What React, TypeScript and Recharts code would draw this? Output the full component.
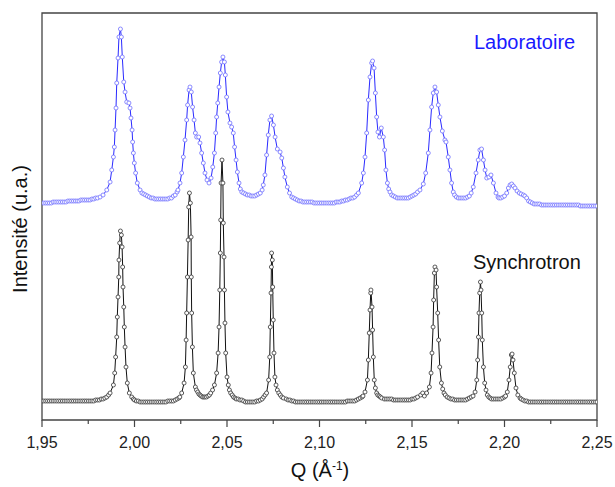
import { LineChart, Line, XAxis, YAxis, ReferenceArea } from 'recharts'

// Q (Å-1) vs intensity (a.u., offset per pattern)
const laboratoire: [number, number][] = [
  [1.950, 217], [1.951, 217], [1.952, 217], [1.953, 217], [1.954, 217], [1.955, 217], [1.956, 218], [1.957, 218],
  [1.958, 218], [1.959, 218], [1.960, 218], [1.961, 218], [1.962, 218], [1.963, 218], [1.964, 219], [1.965, 219],
  [1.966, 219], [1.967, 219], [1.968, 219], [1.969, 219], [1.970, 219], [1.971, 220], [1.972, 220], [1.973, 220],
  [1.974, 220], [1.975, 220], [1.976, 220], [1.977, 221], [1.978, 221], [1.979, 222], [1.980, 222],
  [1.9814, 223], [1.983, 225], [1.985, 230], [1.9868, 238], [1.9877, 250], [1.9886, 263], [1.9891, 273], [1.9895, 290],
  [1.9900, 312], [1.9904, 337], [1.9911, 362], [1.9916, 383], [1.9924, 391], [1.9929, 383], [1.9934, 363], [1.9942, 338],
  [1.9949, 328], [1.9958, 318], [1.9970, 317], [1.9976, 312], [1.9981, 302], [1.9987, 290], [1.9990, 278], [1.9994, 267],
  [1.9999, 257], [2.0006, 247], [2.0015, 237], [2.0030, 230], [2.004, 227], [2.005, 226], [2.006, 225], [2.007, 224],
  [2.008, 223], [2.009, 222], [2.010, 222], [2.011, 221], [2.012, 221], [2.013, 221], [2.014, 221], [2.015, 221],
  [2.016, 221], [2.017, 221], [2.018, 221], [2.019, 222], [2.020, 222], [2.021, 224], [2.022, 225], [2.023, 228],
  [2.0235, 230], [2.0246, 237], [2.0255, 247], [2.0264, 263], [2.0273, 280], [2.0282, 300], [2.0287, 315], [2.0295, 330],
  [2.0300, 333], [2.0307, 328], [2.0314, 313], [2.0322, 300], [2.0329, 287], [2.0336, 283], [2.0347, 283], [2.0354, 277],
  [2.0363, 267], [2.0372, 257], [2.0381, 247], [2.0392, 240], [2.0403, 237], [2.0414, 242], [2.0423, 253], [2.0432, 267],
  [2.0439, 287], [2.0444, 303], [2.0450, 317], [2.0457, 333], [2.0464, 347], [2.0471, 358], [2.0478, 363], [2.0486, 358],
  [2.0491, 345], [2.0498, 323], [2.0505, 308], [2.0516, 297], [2.0525, 293], [2.0534, 287], [2.0541, 273], [2.0549, 260],
  [2.0556, 248], [2.0565, 237], [2.0572, 231], [2.058, 228], [2.059, 227], [2.060, 226], [2.061, 225], [2.062, 225],
  [2.063, 224], [2.064, 224], [2.065, 224], [2.066, 225], [2.067, 226], [2.068, 227], [2.069, 230],
  [2.0696, 235], [2.0705, 245], [2.0714, 265], [2.0723, 285], [2.0732, 300], [2.0741, 304], [2.0751, 295],
  [2.0760, 283], [2.0772, 271], [2.0787, 268], [2.0796, 262], [2.0805, 252], [2.0813, 243], [2.0826, 233], [2.0838, 227],
  [2.085, 223], [2.086, 222], [2.087, 221], [2.088, 220], [2.089, 219], [2.090, 219], [2.091, 218], [2.092, 218],
  [2.093, 218], [2.094, 218], [2.095, 218], [2.096, 218], [2.097, 217], [2.098, 217], [2.099, 217], [2.100, 217],
  [2.101, 217], [2.102, 217], [2.103, 217], [2.104, 217], [2.105, 217], [2.106, 217], [2.107, 217], [2.108, 217],
  [2.109, 218], [2.110, 218], [2.111, 218], [2.112, 219], [2.113, 219], [2.114, 220], [2.115, 220], [2.116, 221],
  [2.117, 222], [2.118, 222], [2.119, 223], [2.120, 225], [2.1210, 227], [2.1228, 237], [2.1237, 247],
  [2.1246, 263], [2.1255, 287], [2.1264, 320], [2.1273, 343], [2.1282, 357], [2.1287, 359], [2.1295, 352], [2.1302, 327],
  [2.1309, 303], [2.1316, 288], [2.1324, 283], [2.1334, 292], [2.1345, 283], [2.1352, 270], [2.1359, 250], [2.1367, 237],
  [2.1374, 231], [2.1381, 228], [2.139, 225], [2.140, 224], [2.141, 223], [2.142, 222], [2.143, 222], [2.144, 222],
  [2.145, 222], [2.146, 222], [2.147, 222], [2.148, 222], [2.149, 223], [2.150, 224], [2.151, 225], [2.152, 226],
  [2.153, 228], [2.1543, 230], [2.1561, 236], [2.1574, 247], [2.1588, 267], [2.1597, 290], [2.1606, 313], [2.1615, 327],
  [2.1624, 333], [2.1633, 328], [2.1642, 315], [2.1651, 303], [2.1664, 289], [2.1678, 280], [2.1684, 278], [2.1696, 263],
  [2.1705, 250], [2.1714, 237], [2.1723, 228], [2.173, 225], [2.174, 223], [2.175, 222], [2.176, 222], [2.177, 222],
  [2.178, 222], [2.179, 222], [2.180, 223], [2.181, 224], [2.182, 227], [2.1831, 233],
  [2.1846, 247], [2.1858, 260], [2.1867, 270], [2.1876, 271], [2.1886, 260], [2.1895, 250], [2.1904, 242], [2.1916, 243],
  [2.1927, 245], [2.1940, 237], [2.1954, 227], [2.1965, 223], [2.197, 222], [2.198, 222], [2.199, 223], [2.200, 224],
  [2.2012, 227], [2.2021, 232], [2.2030, 235], [2.2039, 236], [2.2048, 234], [2.2057, 232], [2.2068, 229], [2.2080, 227],
  [2.209, 226], [2.2102, 225], [2.211, 224], [2.212, 222], [2.213, 219], [2.214, 218], [2.215, 217], [2.216, 216],
  [2.217, 216], [2.218, 216], [2.219, 216], [2.220, 215], [2.221, 215], [2.222, 215], [2.223, 215], [2.224, 215],
  [2.225, 215], [2.226, 215], [2.227, 215], [2.228, 215], [2.229, 215], [2.230, 215], [2.231, 215], [2.232, 215],
  [2.233, 215], [2.234, 215], [2.235, 215], [2.236, 215], [2.237, 215], [2.238, 215], [2.239, 215], [2.240, 215],
  [2.241, 214], [2.242, 214], [2.243, 214], [2.244, 214], [2.245, 214], [2.246, 214], [2.247, 214], [2.248, 214],
  [2.249, 214], [2.250, 214],
]

const synchrotron: [number, number][] = [
  [1.950, 19], [1.951, 19], [1.952, 19], [1.953, 19], [1.954, 19], [1.955, 19], [1.956, 19], [1.957, 19],
  [1.958, 19], [1.959, 19], [1.960, 19], [1.961, 19], [1.962, 19], [1.963, 19], [1.964, 19], [1.965, 19],
  [1.966, 19], [1.967, 19], [1.968, 19], [1.969, 19], [1.970, 19], [1.971, 19], [1.972, 19], [1.973, 19],
  [1.974, 19], [1.975, 19], [1.976, 19], [1.977, 19], [1.978, 19], [1.979, 20], [1.980, 20], [1.981, 20],
  [1.982, 21], [1.983, 21], [1.984, 22], [1.985, 23], [1.986, 25], [1.9868, 27], [1.9886, 35], [1.9893, 47],
  [1.9898, 63], [1.9904, 83], [1.9907, 103], [1.9911, 123], [1.9915, 143], [1.9916, 160], [1.9920, 177], [1.9924, 189],
  [1.9929, 185], [1.9933, 173], [1.9936, 153], [1.9938, 133], [1.9942, 113], [1.9945, 93], [1.9949, 73], [1.9954, 53],
  [1.9961, 37], [1.9972, 27], [1.9985, 23], [1.9994, 21], [2.000, 20], [2.001, 19], [2.002, 19], [2.003, 18],
  [2.004, 18], [2.005, 18], [2.006, 18], [2.007, 18], [2.008, 18], [2.009, 18], [2.010, 18], [2.011, 18],
  [2.012, 18], [2.013, 18], [2.014, 18], [2.015, 18], [2.016, 18], [2.017, 18], [2.018, 19], [2.019, 19],
  [2.020, 19], [2.021, 19], [2.022, 20], [2.023, 21], [2.024, 22], [2.0245, 23], [2.0255, 27], [2.0268, 37],
  [2.0275, 53], [2.0279, 80], [2.0282, 107], [2.0286, 143], [2.0290, 180], [2.0293, 213], [2.0297, 227], [2.0302, 217],
  [2.0306, 183], [2.0307, 143], [2.0309, 107], [2.0313, 73], [2.0318, 47], [2.0329, 33], [2.0335, 30], [2.0342, 28],
  [2.0348, 26], [2.0354, 25], [2.036, 24], [2.0368, 23], [2.0375, 23], [2.0381, 23], [2.0389, 23], [2.0397, 24],
  [2.0405, 25], [2.0412, 27], [2.0422, 30], [2.0432, 35], [2.0444, 47], [2.0452, 67], [2.0457, 93],
  [2.0461, 130], [2.0464, 167], [2.0466, 200], [2.0468, 237], [2.0473, 260], [2.0478, 237], [2.0480, 197], [2.0484, 163],
  [2.0486, 130], [2.0489, 97], [2.0493, 67], [2.0500, 43], [2.0507, 35], [2.0513, 30], [2.052, 27], [2.0528, 25],
  [2.0535, 23], [2.0543, 22], [2.055, 21], [2.056, 21], [2.057, 20], [2.058, 20], [2.059, 19], [2.060, 18],
  [2.061, 18], [2.062, 18], [2.063, 18], [2.064, 18], [2.065, 18], [2.066, 19], [2.067, 19], [2.068, 20],
  [2.069, 21], [2.0698, 23], [2.0706, 25], [2.0714, 27], [2.0725, 40], [2.0731, 63],
  [2.0734, 93], [2.0738, 127], [2.0740, 153], [2.0741, 167], [2.0745, 160], [2.0747, 133], [2.0750, 100], [2.0754, 67],
  [2.0759, 43], [2.0765, 35], [2.0772, 30], [2.078, 27], [2.0788, 25], [2.0796, 23], [2.0805, 22], [2.082, 21],
  [2.083, 20], [2.084, 20], [2.085, 19], [2.086, 19], [2.087, 18], [2.088, 18], [2.089, 18], [2.090, 18],
  [2.091, 18], [2.092, 18], [2.093, 18], [2.094, 18], [2.095, 18], [2.096, 18], [2.097, 18], [2.098, 18],
  [2.099, 18], [2.100, 18], [2.101, 18], [2.102, 18], [2.103, 18], [2.104, 18], [2.105, 18], [2.106, 18],
  [2.107, 18], [2.108, 18], [2.109, 18], [2.110, 18], [2.111, 18], [2.112, 18], [2.113, 18], [2.114, 18],
  [2.115, 19], [2.116, 19], [2.117, 19], [2.118, 19], [2.119, 19], [2.120, 20], [2.121, 21], [2.122, 22],
  [2.123, 23], [2.1235, 24], [2.1246, 28], [2.1259, 40], [2.1264, 60], [2.1269, 87], [2.1273, 110],
  [2.1277, 127], [2.1278, 130], [2.1284, 113], [2.1287, 90], [2.1291, 63], [2.1296, 40], [2.1302, 32], [2.1309, 27],
  [2.1315, 25], [2.1322, 24], [2.1329, 23], [2.1336, 22], [2.135, 21], [2.136, 21], [2.137, 21], [2.138, 21],
  [2.139, 21], [2.140, 20], [2.141, 20], [2.142, 20], [2.143, 20], [2.144, 20], [2.145, 20], [2.146, 20],
  [2.147, 20], [2.148, 20], [2.149, 20], [2.150, 21], [2.151, 21], [2.152, 22], [2.153, 23], [2.1547, 25],
  [2.1558, 27], [2.1567, 24], [2.1579, 27], [2.1594, 33], [2.1603, 47], [2.1608, 67], [2.1614, 93], [2.1617, 120],
  [2.1621, 147], [2.1624, 153], [2.1630, 150], [2.1633, 133], [2.1639, 107], [2.1644, 80], [2.1650, 53], [2.1659, 37],
  [2.1666, 31], [2.1673, 27], [2.168, 25], [2.1690, 23], [2.170, 22], [2.171, 21], [2.172, 21], [2.173, 20],
  [2.174, 20], [2.175, 20], [2.176, 20], [2.177, 20], [2.178, 20], [2.179, 20], [2.180, 21], [2.181, 22],
  [2.182, 23], [2.1830, 24], [2.1841, 28],
  [2.1850, 40], [2.1855, 60], [2.1859, 83], [2.1862, 107], [2.1866, 127], [2.1870, 138], [2.1873, 130], [2.1877, 107],
  [2.1880, 80], [2.1886, 53], [2.1893, 37], [2.19, 30], [2.1907, 25], [2.1915, 23], [2.1922, 22], [2.193, 21],
  [2.194, 21], [2.195, 21], [2.196, 21], [2.197, 21], [2.198, 21], [2.199, 22], [2.200, 23], [2.2006, 24],
  [2.2015, 28], [2.2024, 40], [2.2031, 53], [2.2037, 65], [2.2041, 66], [2.2046, 60], [2.2053, 47],
  [2.2062, 32], [2.2072, 25], [2.2084, 22], [2.209, 21], [2.210, 20], [2.211, 19], [2.212, 19], [2.213, 18],
  [2.214, 18], [2.215, 18], [2.216, 18], [2.217, 18], [2.218, 18], [2.219, 18], [2.220, 18], [2.221, 18],
  [2.222, 18], [2.223, 18], [2.224, 18], [2.225, 18], [2.226, 18], [2.227, 18], [2.228, 18], [2.229, 18],
  [2.230, 18], [2.231, 18], [2.232, 18], [2.233, 18], [2.234, 18], [2.235, 18], [2.236, 18], [2.237, 18],
  [2.238, 18], [2.239, 18], [2.240, 18], [2.241, 18], [2.242, 18], [2.243, 18], [2.244, 18], [2.245, 18],
  [2.246, 18], [2.247, 18], [2.248, 18], [2.249, 18], [2.250, 18],
]

const xTicks = [1.95, 1.975, 2.0, 2.025, 2.05, 2.075, 2.1, 2.125, 2.15, 2.175, 2.2, 2.225, 2.25]

const FONT = '"Liberation Sans", Arial, sans-serif'

const toRows = (pts: [number, number][]) => pts.map(([q, i]) => ({ q, i }))

function QTick({ x, y, payload }: any) {
  const v = payload.value as number
  const major = Math.round(v * 1000) % 50 === 0
  return (
    <g>
      <line x1={x} x2={x} y1={y} y2={y + (major ? 7 : 4)} stroke="#444" strokeWidth={1.2} />
      {major && (
        <text x={x} y={y + 28} textAnchor="middle" fontSize={16} fontFamily={FONT} fill="#222">
          {v.toFixed(2).replace('.', ',')}
        </text>
      )}
    </g>
  )
}

export default function App() {
  return (
    <div style={{ position: 'absolute', left: 0, top: 0, width: 615, height: 487, background: '#fff' }}>
      <LineChart width={615} height={487} margin={{ top: 13, right: 18, left: 42, bottom: 7 }}>
        <XAxis
          type="number"
          dataKey="q"
          domain={[1.95, 2.25]}
          ticks={xTicks}
          interval={0}
          allowDataOverflow
          axisLine={false}
          tickLine={false}
          tickSize={0}
          tickMargin={0}
          height={60}
          tick={<QTick />}
        />
        <YAxis type="number" dataKey="i" domain={[0, 407]} hide allowDataOverflow />
        <ReferenceArea x1={1.95} x2={2.25} y1={0} y2={407} fill="none" stroke="#444" strokeWidth={1.3} />
        <Line
          data={toRows(laboratoire)}
          dataKey="i"
          type="linear"
          stroke="#2a2aff"
          strokeWidth={1}
          dot={{ r: 2, stroke: '#6f6fff', strokeWidth: 0.8, fill: '#fff' }}
          isAnimationActive={false}
        />
        <Line
          data={toRows(synchrotron)}
          dataKey="i"
          type="linear"
          stroke="#111"
          strokeWidth={1}
          dot={{ r: 2, stroke: '#333', strokeWidth: 0.8, fill: '#fff' }}
          isAnimationActive={false}
        />
      </LineChart>
      <div style={{ position: 'absolute', left: 474, top: 32, fontFamily: FONT, fontSize: 20, lineHeight: '20px', color: '#1a1aff' }}>
        Laboratoire
      </div>
      <div style={{ position: 'absolute', left: 473, top: 252, fontFamily: FONT, fontSize: 20, lineHeight: '20px', color: '#111' }}>
        Synchrotron
      </div>
      <div
        style={{
          position: 'absolute', left: 20, top: 229, fontFamily: FONT, fontSize: 20, lineHeight: '20px', color: '#111',
          whiteSpace: 'nowrap', transform: 'translate(-50%, -50%) rotate(-90deg)',
        }}
      >
        Intensité (u.a.)
      </div>
      <div
        style={{
          position: 'absolute', left: 320, top: 470, fontFamily: FONT, fontSize: 20, lineHeight: '20px', color: '#111',
          whiteSpace: 'nowrap', transform: 'translate(-50%, -50%)',
        }}
      >
        Q (Å<sup style={{ fontSize: 12, verticalAlign: 'top', lineHeight: '12px' }}>-1</sup>)
      </div>
    </div>
  )
}
